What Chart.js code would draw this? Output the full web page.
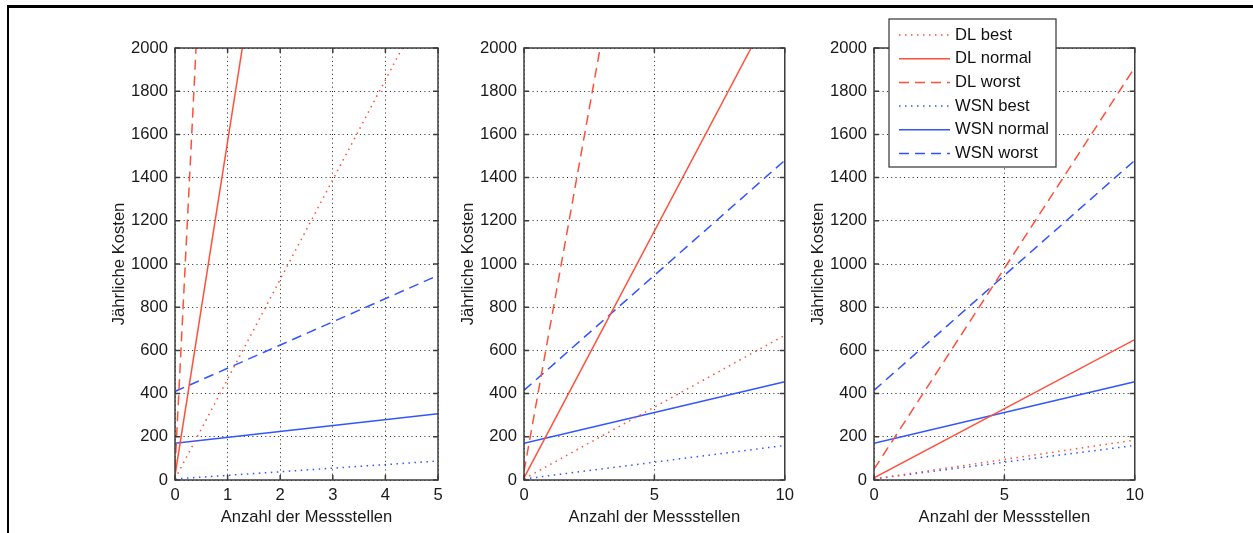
<!DOCTYPE html>
<html>
<head>
<meta charset="utf-8">
<script src="https://cdn.jsdelivr.net/npm/chart.js@4.4.1/dist/chart.umd.min.js"></script>
<style>
  body { margin: 0; background: #fff; width: 1253px; height: 533px; overflow: hidden; position: relative; }
  #frame { position: absolute; left: 7px; top: 5px; right: 0; bottom: 0; border-top: 3px solid #000; border-left: 2px solid #000; }
  .box { position: absolute; top: 0; width: 350px; height: 528px; }
</style>
</head>
<body>
<div id="frame"></div>
<div class="box" style="left:100px"><canvas id="c1"></canvas></div>
<div class="box" style="left:449px"><canvas id="c2"></canvas></div>
<div class="box" style="left:799px"><canvas id="c3"></canvas></div>
<script>
// series names (legend)
const seriesNames = ['DL best', 'DL normal', 'DL worst', 'WSN best', 'WSN normal', 'WSN worst'];

// x range of each subplot, tick step
const xMax = [5, 10, 10];
const xStep = [1, 5, 5];
const yMax = 2000;
const yStep = 200;

// [x, y] end points of every line, one entry per subplot (cut at 2000 where it leaves the plot)
const dlBest    = [[[0, 5],   [4.32, 2000]], [[0, 5],   [10, 670]],  [[0, 5],   [10, 185]]];
const dlNormal  = [[[0, 20],  [1.28, 2000]], [[0, 10],  [8.71, 2000]], [[0, 10], [10, 650]]];
const dlWorst   = [[[0, 50],  [0.40, 2000]], [[0, 40],  [2.92, 2000]], [[0, 50], [10, 1910]]];
const wsnBest   = [[[0, 5],   [5, 88]],      [[0, 5],   [10, 160]],  [[0, 5],   [10, 160]]];
const wsnNormal = [[[0, 170], [5, 307]],     [[0, 170], [10, 455]],  [[0, 170], [10, 455]]];
const wsnWorst  = [[[0, 410], [5, 947]],     [[0, 415], [10, 1480]], [[0, 415], [10, 1480]]];

const RED = 'rgb(255,80,60)';
const BLUE = 'rgb(50,85,255)';
const DOT = [1.5, 4.5];
const DASH = [10, 6];
const FONT = { family: "'Liberation Sans', Arial, sans-serif", size: 16.6 };

// box round the axes + inward ticks on all four sides
const boxPlugin = {
  id: 'axesBox',
  afterDatasetsDraw(chart) {
    const { ctx, chartArea: a, scales: { x, y } } = chart;
    ctx.save();
    ctx.strokeStyle = '#3c3c3c';
    ctx.lineWidth = 1.5;
    ctx.beginPath();
    x.ticks.forEach(t => {
      const px = x.getPixelForValue(t.value);
      ctx.moveTo(px, a.bottom); ctx.lineTo(px, a.bottom - 5);
      ctx.moveTo(px, a.top); ctx.lineTo(px, a.top + 5);
    });
    y.ticks.forEach(t => {
      const py = y.getPixelForValue(t.value);
      ctx.moveTo(a.left, py); ctx.lineTo(a.left + 5, py);
      ctx.moveTo(a.right, py); ctx.lineTo(a.right - 5, py);
    });
    ctx.stroke();
    ctx.strokeRect(a.left, a.top, a.right - a.left, a.bottom - a.top);
    ctx.restore();
  }
};

// MATLAB-like legend box, drawn above the third axes
const legendPlugin = {
  id: 'boxLegend',
  afterDraw(chart, args, opts) {
    if (!opts.show) return;
    const { ctx, chartArea: a } = chart;
    const left = a.left + 15, top = 19, w = 167, h = 148;
    ctx.save();
    ctx.fillStyle = '#fff';
    ctx.fillRect(left, top, w, h);
    ctx.strokeStyle = '#333';
    ctx.lineWidth = 1.2;
    ctx.strokeRect(left, top, w, h);
    ctx.font = `${FONT.size}px ${FONT.family}`;
    ctx.textBaseline = 'middle';
    chart.data.datasets.forEach((ds, i) => {
      const yy = top + 16 + i * 23.7;
      ctx.strokeStyle = ds.borderColor;
      ctx.lineWidth = ds.borderWidth;
      ctx.setLineDash(ds.borderDash);
      ctx.beginPath();
      ctx.moveTo(left + 10, yy); ctx.lineTo(left + 61, yy);
      ctx.stroke();
      ctx.setLineDash([]);
      ctx.fillStyle = '#111';
      ctx.fillText(ds.label, left + 66, yy);
    });
    ctx.restore();
  }
};

function makeDatasets(p) {
  const all = [dlBest, dlNormal, dlWorst, wsnBest, wsnNormal, wsnWorst];
  return all.map((s, i) => ({
    label: seriesNames[i],
    data: s[p],
    borderColor: i < 3 ? RED : BLUE,
    borderWidth: 1.5,
    borderDash: [DOT, [], DASH][i % 3],
    pointRadius: 0,
    fill: false,
    tension: 0
  }));
}

function drawChart(canvas, p) {
  const ctx = document.getElementById(canvas).getContext('2d');
  return new Chart(ctx, {
    type: 'line',
    data: { datasets: makeDatasets(p) },
    plugins: [boxPlugin, legendPlugin],
    options: {
      responsive: true,
      maintainAspectRatio: false,
      animation: false,
      layout: { padding: { top: 48, right: 12, left: 0, bottom: 0 } },
      plugins: {
        legend: { display: false },
        tooltip: { enabled: false },
        boxLegend: { show: p === 2 }
      },
      scales: {
        x: {
          type: 'linear',
          min: 0, max: xMax[p],
          afterFit: s => { s.height = 48; },
          ticks: { stepSize: xStep[p], color: '#1a1a1a', font: FONT, padding: 5, maxRotation: 0 },
          grid: { color: '#222', drawTicks: false },
          border: { display: false, dash: [1, 3.3] },
          title: { display: true, text: 'Anzahl der Messstellen', color: '#1a1a1a', font: FONT, padding: { top: 0, bottom: 1 } }
        },
        y: {
          min: 0, max: yMax,
          afterFit: s => { s.width = 75; },
          ticks: { stepSize: yStep, color: '#1a1a1a', font: FONT, padding: 7, callback: v => String(v) },
          grid: { color: '#222', drawTicks: false },
          border: { display: false, dash: [1, 3.3] },
          title: { display: true, text: 'Jährliche Kosten', color: '#1a1a1a', font: FONT, padding: { top: 9, bottom: 0 } }
        }
      }
    }
  });
}

drawChart('c1', 0);
drawChart('c2', 1);
drawChart('c3', 2);
</script>
</body>
</html>
